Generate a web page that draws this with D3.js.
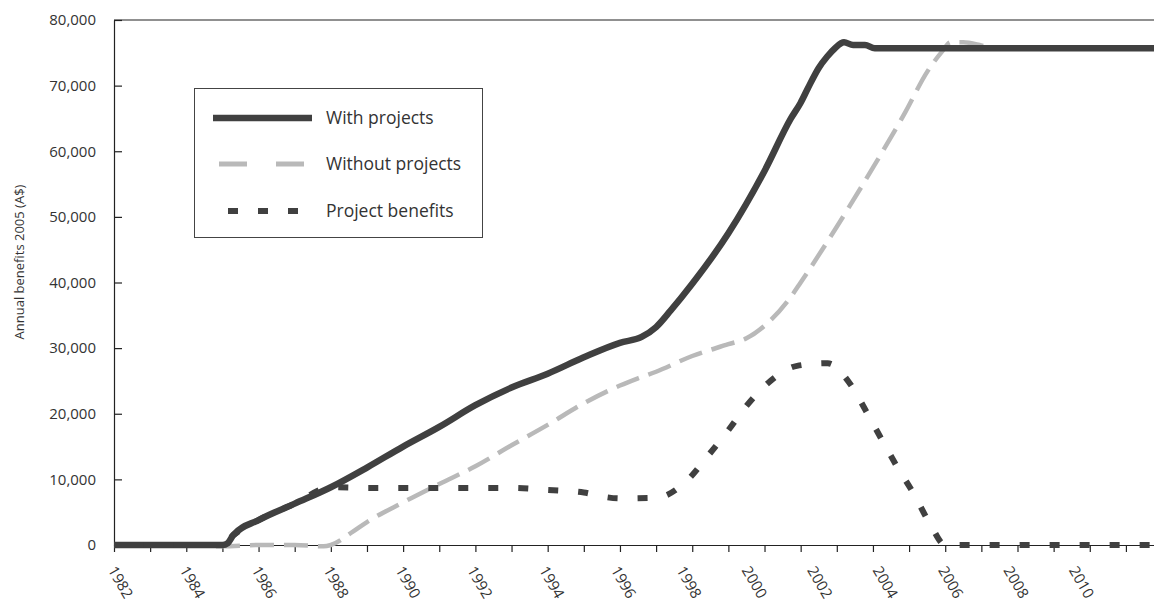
<!DOCTYPE html>
<html>
<head>
<meta charset="utf-8">
<script src="https://cdn.jsdelivr.net/npm/d3@7"></script>
<style>
  html, body { margin: 0; padding: 0; background: #fff; }
  svg { display: block; font-family: "Open Sans", sans-serif; }
</style>
</head>
<body>
<svg id="chart" width="1154" height="603"></svg>
<script>
// ---- data (year, A$) ----
const withProjects = [
  [1982,0],[1983,0],[1984,0],[1985,0],[1985.15,300],[1985.3,1500],[1986,3800],[1987,6300],
  [1988,8800],[1989,11800],[1990,15000],[1991,18000],[1992,21300],[1993,24000],[1994,26100],
  [1995,28600],[1996,30800],[1996.6,31700],[1997,33200],[1997.4,35700],[1998,39800],
  [1999,47500],[2000,57000],[2000.73,65000],[2001,67400],[2001.2,69600],[2001.5,72700],
  [2001.73,74400],[2001.95,75700],[2002.2,76600],[2002.45,76200],[2002.78,76200],
  [2003.05,75700],[2004,75700],[2006,75700],[2008,75700],[2010,75700],[2012,75700],[2013,75700]
];
const withoutProjects = [
  [1982,0],[1983,0],[1984,0],[1985,-200],[1986,0],[1987,0],[1987.8,-200],[1988,0],
  [1988.6,2000],[1989,3500],[1990,6500],[1991,9300],[1992,12000],[1993,15200],[1994,18300],
  [1995,21600],[1996,24300],[1996.5,25400],[1997,26400],[1998,28800],[1999,30600],
  [1999.5,31500],[2000,33400],[2000.7,37600],[2001,40000],[2002,48500],[2003,57500],
  [2003.9,66000],[2004.5,72100],[2004.9,75100],[2005.15,76600],[2005.5,76600],
  [2005.95,76200],[2006.3,75700],[2008,75700],[2010,75700],[2012,75700],[2013,75700]
];
const projectBenefits = [
  [1982,0],[1983,0],[1984,0],[1985,0],[1985.3,1500],[1986,3800],[1987,6300],[1988,8800],
  [1989,8700],[1990,8700],[1991,8700],[1992,8700],[1993,8700],[1994,8400],[1995,8000],
  [1995.6,7300],[1996,7100],[1997,7200],[1997.85,9800],[1998.45,13700],[1999,17500],
  [1999.5,21200],[2000.1,24700],[2000.9,27300],[2001.75,27700],[2002.35,24700],
  [2002.8,20500],[2003.2,16500],[2003.65,12100],[2004.15,7600],[2004.6,3000],[2005,0],
  [2006,0],[2008,0],[2010,0],[2012,0],[2013,0]
];
const tickYears = d3.range(1982, 2013);          // yearly tick marks
const labelYears = d3.range(1982, 2011, 2);      // labelled years
const yTicks = [0,10000,20000,30000,40000,50000,60000,70000,80000];
const seriesNames = ["With projects", "Without projects", "Project benefits"];
const yTitle = "Annual benefits 2005 (A$)";

// ---- layout ----
const svg = d3.select("#chart");
const mLeft = 114, mTop = 20, mBottom = 545, yearW = 36.14;
const x = d3.scaleLinear().domain([1982, 2013]).range([mLeft, mLeft + 31 * yearW]);
const y = d3.scaleLinear().domain([0, 80000]).range([mBottom, mTop]);
// label positions drift from tick positions in the original
const xLabel = d3.scaleLinear().domain([1982, 1996, 2010]).range([107, 610, 1068]);

const dark = "#404040", grey = "#b9b9b9", ink = "#333";

// frame top line
svg.append("line").attr("x1", mLeft).attr("x2", 1154).attr("y1", mTop).attr("y2", mTop)
  .attr("stroke", "#222").attr("stroke-width", 1.2);

// y axis
const gy = svg.append("g").attr("transform", `translate(${mLeft},0)`)
  .call(d3.axisLeft(y).tickValues(yTicks).tickSizeInner(-8).tickSizeOuter(0)
    .tickPadding(18).tickFormat(d3.format(",")));
gy.selectAll("path,line").attr("stroke", "#222").attr("stroke-width", 1.2);
gy.selectAll("text").attr("font-size", 15).attr("fill", ink)
  .attr("font-family", "Open Sans");

// x axis ticks
const gx = svg.append("g").attr("transform", `translate(0,${mBottom})`)
  .call(d3.axisBottom(x).tickValues(tickYears).tickSize(7).tickSizeOuter(0).tickFormat(""));
gx.selectAll("path,line").attr("stroke", "#222").attr("stroke-width", 1.2);

// x labels
const gl = svg.append("g").attr("transform", `translate(0,${mBottom})`)
  .call(d3.axisBottom(xLabel).tickValues(labelYears).tickSize(0).tickFormat(d3.format("d")));
gl.select(".domain").remove();
gl.selectAll("text").attr("x", 0).attr("y", 0).attr("dy", 0)
  .attr("text-anchor", "start").attr("transform", "translate(0,25) rotate(60)")
  .attr("font-size", 15).attr("fill", ink).attr("font-family", "Open Sans");

// y title
svg.append("text").attr("transform", "translate(24,262) rotate(-90)")
  .attr("text-anchor", "middle").attr("font-size", 13).attr("fill", ink)
  .text(yTitle);

// lines (grey first so the solid line covers it where they coincide)
const line = d3.line().x(d => x(d[0])).y(d => y(d[1])).curve(d3.curveMonotoneX);
svg.append("path").datum(withoutProjects).attr("d", line)
  .attr("fill", "none").attr("stroke", grey).attr("stroke-width", 4.5)
  .attr("stroke-dasharray", "24,10");
svg.append("path").datum(withProjects).attr("d", line)
  .attr("fill", "none").attr("stroke", dark).attr("stroke-width", 6.5)
  .attr("stroke-linejoin", "round");
svg.append("path").datum(projectBenefits).attr("d", line)
  .attr("fill", "none").attr("stroke", dark).attr("stroke-width", 6)
  .attr("stroke-dasharray", "10,20");

// legend
const lg = svg.append("g");
lg.append("rect").attr("x", 194.5).attr("y", 88.5).attr("width", 288).attr("height", 149)
  .attr("fill", "#fff").attr("stroke", "#444").attr("stroke-width", 1);
const legendStyles = [
  {c: dark, w: 6.5, d: null, x1: 213, x2: 312, y: 118},
  {c: grey, w: 5, d: "28,29", x1: 219, x2: 305, y: 164},
  {c: dark, w: 6, d: "10,20", x1: 228, x2: 298, y: 211}
];
seriesNames.forEach((n, i) => {
  const s = legendStyles[i];
  lg.append("line").attr("x1", s.x1).attr("x2", s.x2).attr("y1", s.y).attr("y2", s.y)
    .attr("stroke", s.c).attr("stroke-width", s.w).attr("stroke-dasharray", s.d);
  lg.append("text").attr("x", 326).attr("y", s.y).attr("dy", "0.35em")
    .attr("font-size", 17.5).attr("fill", ink).text(n);
});
</script>
</body>
</html>
